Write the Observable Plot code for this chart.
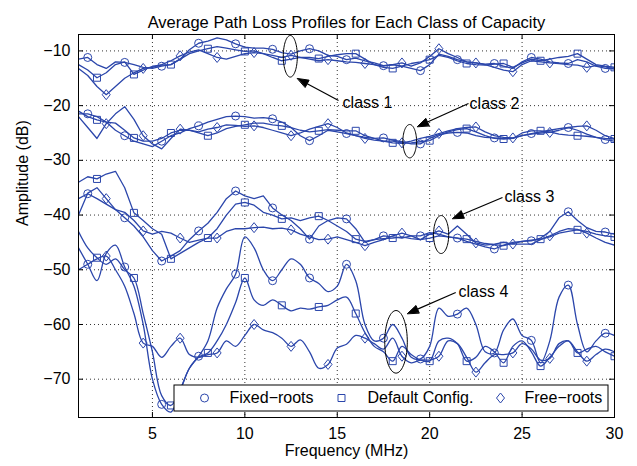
<!DOCTYPE html>
<html><head><meta charset="utf-8">
<script src="https://cdn.jsdelivr.net/npm/d3@7"></script>
<script src="https://cdn.jsdelivr.net/npm/@observablehq/plot@0.6"></script>
<style>body{margin:0;background:#fff}</style>
</head><body><div id="chart"></div>
<script>
// ---------- data ----------
const freq = [1,1.5,2,2.5,3,3.5,4,4.5,5,5.5, 6,6.5,7,7.5,8,8.5,9,9.5,10,10.5,
  11,11.5,12,12.5,13,13.5,14,14.5,15,15.5, 16,16.5,17,17.5,18,18.5,19,19.5,20,20.5,
  21,21.5,22,22.5,23,23.5,24,24.5,25,25.5, 26,26.5,27,27.5,28,28.5,29,29.5,30];
const configs = ["Fixed\u2212roots", "Default Config.", "Free\u2212roots"];
const xTicks = [5, 10, 15, 20, 25, 30];
const yTicks = [-70, -60, -50, -40, -30, -20, -10];
const title = "Average Path Loss Profiles for Each Class of Capacity";
const xLabel = "Frequency (MHz)";
const yLabel = "Amplitude (dB)";

const class1Fixed = [-11.5,-11.2,-12.5,-13.2,-12.0,-12.1,-12.5,-13.0,-13.2,-12.8,
  -12.5,-11.5,-9.8,-8.6,-8.2,-7.6,-8.0,-8.7,-9.3,-9.5,
  -9.5,-9.7,-10.3,-10.6,-10.0,-9.6,-10.0,-10.8,-11.0,-11.6,
  -11.3,-11.8,-12.2,-12.7,-12.5,-12.8,-13.2,-13.6,-12.5,-10.6,
  -11.0,-11.6,-12.0,-12.2,-12.4,-12.3,-12.8,-13.2,-12.0,-11.2,
  -11.5,-12.0,-12.2,-12.3,-11.6,-12.0,-12.8,-13.2,-13.3];
const class1Default = [-12.5,-13.5,-14.9,-14.0,-12.5,-12.0,-14.3,-13.5,-12.8,-12.6,
  -12.5,-11.5,-10.5,-10.0,-9.6,-9.2,-9.5,-9.8,-10.1,-10.0,
  -10.5,-11.2,-11.8,-11.5,-11.2,-11.2,-11.4,-11.0,-10.7,-10.5,
  -10.5,-11.5,-12.5,-13.0,-13.2,-12.8,-12.3,-12.0,-11.6,-10.8,
  -11.2,-11.8,-12.3,-12.5,-12.6,-12.4,-12.3,-13.0,-12.2,-11.5,
  -11.8,-11.5,-11.2,-11.0,-10.5,-11.5,-12.5,-12.8,-13.0];
const class1Free = [-13.2,-14.5,-16.5,-18.0,-16.5,-15.0,-14.0,-13.2,-13.0,-12.5,
  -11.8,-10.9,-10.2,-9.8,-10.5,-11.2,-11.5,-11.0,-10.5,-10.3,
  -10.5,-10.8,-11.2,-10.8,-11.2,-11.5,-11.8,-11.6,-11.8,-12.0,
  -12.1,-12.3,-12.5,-12.8,-12.5,-12.2,-12.8,-12.2,-11.0,-9.6,
  -10.5,-11.2,-12.0,-12.2,-12.5,-13.0,-13.5,-13.8,-12.5,-11.8,
  -12.0,-12.2,-12.3,-12.5,-12.6,-13.0,-12.7,-12.9,-13.3];

const class2Fixed = [-21.5,-21.5,-22.0,-23.0,-24.5,-25.5,-26.5,-27.0,-27.5,-26.5,
  -25.5,-25.0,-24.2,-23.7,-23.0,-22.5,-22.0,-21.9,-22.0,-22.3,
  -22.2,-22.4,-23.0,-24.0,-25.5,-26.4,-25.5,-24.5,-24.8,-25.1,
  -25.5,-25.8,-26.0,-25.9,-26.3,-26.6,-27.0,-27.0,-26.0,-25.3,
  -25.0,-24.9,-25.0,-25.5,-25.8,-25.9,-26.0,-26.0,-25.5,-25.1,
  -24.8,-24.5,-24.2,-24.0,-24.5,-25.2,-25.8,-26.2,-26.5];
const class2Default = [-21.0,-22.0,-22.6,-23.0,-23.2,-24.5,-25.9,-26.5,-26.5,-26.0,
  -25.0,-24.5,-24.5,-25.0,-25.5,-25.0,-24.2,-23.8,-23.5,-23.2,
  -23.2,-23.5,-23.7,-24.0,-24.5,-24.8,-24.6,-24.4,-24.5,-24.6,
  -24.6,-25.5,-26.0,-26.5,-26.8,-26.9,-26.8,-26.6,-26.4,-25.5,
  -24.8,-24.4,-24.2,-24.8,-25.5,-26.0,-26.1,-26.0,-25.0,-24.6,
  -24.6,-24.8,-25.2,-25.4,-25.5,-25.6,-25.8,-26.0,-26.1];
const class2Free = [-22.0,-24.0,-26.0,-23.3,-21.5,-20.2,-22.5,-25.5,-27.0,-27.9,
  -26.0,-24.3,-24.5,-24.8,-24.3,-24.0,-23.5,-23.6,-23.8,-23.7,
  -24.0,-24.5,-25.0,-25.5,-25.0,-24.3,-23.8,-23.3,-24.0,-25.0,
  -25.5,-26.0,-26.3,-26.5,-26.5,-26.8,-26.5,-26.0,-25.6,-25.1,
  -24.6,-24.2,-24.0,-23.9,-24.8,-25.5,-25.8,-25.9,-25.5,-25.2,
  -25.0,-24.9,-24.5,-24.0,-23.8,-23.7,-24.5,-25.5,-26.0];

const class3Fixed = [-37.0,-36.1,-37.0,-38.0,-39.0,-40.5,-42.0,-44.0,-46.5,-48.4,
  -47.5,-46.5,-44.5,-42.9,-41.5,-39.5,-37.0,-35.6,-36.5,-37.0,
  -36.5,-38.7,-40.0,-41.0,-42.5,-44.4,-42.0,-41.0,-40.5,-40.7,
  -42.5,-45.0,-44.5,-43.8,-44.0,-44.2,-43.8,-43.8,-43.2,-43.5,
  -44.0,-44.2,-44.8,-45.3,-45.8,-46.2,-45.5,-45.0,-44.8,-44.7,
  -44.2,-43.0,-40.5,-39.4,-41.0,-42.3,-43.0,-43.1,-43.5];
const class3Default = [-34.0,-33.0,-33.4,-32.5,-32.0,-35.0,-39.6,-41.0,-42.5,-43.5,
  -48.0,-47.0,-46.0,-45.0,-44.2,-42.5,-40.0,-38.0,-37.7,-38.2,
  -39.5,-40.0,-40.7,-40.5,-41.0,-40.5,-40.2,-41.0,-42.0,-43.0,
  -44.4,-44.8,-44.5,-44.3,-44.2,-44.0,-44.3,-44.5,-44.2,-43.8,
  -44.0,-44.2,-44.4,-44.8,-45.2,-45.4,-45.6,-45.2,-44.8,-44.6,
  -44.4,-44.0,-43.3,-43.0,-42.7,-43.0,-43.5,-43.8,-44.0];
const class3Free = [-40.0,-36.0,-35.0,-37.0,-39.0,-39.5,-41.0,-42.9,-43.5,-43.0,
  -43.3,-44.2,-45.0,-44.6,-44.2,-44.2,-43.0,-42.5,-42.5,-42.3,
  -42.2,-42.5,-42.4,-42.7,-43.5,-44.0,-44.5,-44.4,-44.0,-44.5,
  -45.0,-45.6,-45.0,-44.5,-43.8,-43.3,-43.8,-44.5,-43.5,-42.9,
  -43.5,-42.0,-43.5,-45.1,-45.5,-45.3,-45.0,-45.3,-45.3,-45.3,
  -44.5,-43.8,-43.0,-42.5,-42.6,-43.3,-44.2,-45.0,-45.5];

const class4Fixed = [-46.0,-49.0,-52.0,-47.0,-45.5,-49.5,-53.0,-60.0,-70.0,-74.6,
  -76.0,-72.0,-68.0,-65.8,-63.0,-57.0,-53.5,-50.8,-44.0,-46.0,
  -50.0,-52.0,-50.0,-48.0,-49.0,-51.5,-52.5,-54.0,-53.0,-49.0,
  -52.0,-60.0,-63.0,-62.5,-60.0,-62.5,-66.0,-66.3,-64.0,-57.0,
  -58.5,-58.1,-57.0,-60.0,-65.0,-65.2,-61.0,-59.0,-62.0,-62.9,
  -67.0,-63.0,-55.0,-52.8,-60.0,-65.0,-63.0,-61.6,-62.0];
const class4Default = [-43.0,-46.0,-47.8,-49.0,-48.0,-50.0,-51.5,-58.0,-65.0,-73.0,
  -74.8,-72.0,-68.0,-66.0,-65.2,-63.0,-60.0,-56.0,-51.5,-55.5,
  -56.5,-55.5,-56.5,-57.5,-57.0,-57.2,-56.8,-56.5,-55.5,-55.0,
  -58.0,-61.5,-64.0,-65.0,-66.7,-64.0,-65.5,-66.5,-66.7,-63.0,
  -62.5,-63.5,-66.7,-66.0,-64.0,-65.0,-67.0,-64.0,-63.0,-65.0,
  -67.6,-66.0,-64.0,-63.0,-65.2,-64.5,-64.0,-65.0,-65.8];
const class4Free = [-50.0,-49.0,-48.0,-47.5,-50.0,-53.0,-58.0,-63.4,-64.0,-66.0,
  -64.0,-62.5,-65.5,-66.0,-65.5,-65.2,-63.0,-64.0,-62.0,-60.0,
  -61.0,-61.5,-62.5,-64.0,-62.8,-65.0,-68.0,-67.3,-64.3,-63.6,
  -62.0,-62.5,-63.5,-64.5,-62.5,-65.8,-67.0,-66.5,-66.5,-65.8,
  -63.0,-63.5,-66.0,-68.7,-67.0,-65.5,-65.5,-65.2,-63.5,-64.5,
  -66.5,-66.2,-63.5,-63.0,-65.0,-66.7,-65.5,-64.5,-65.0];

// annotations (data units: MHz, dB)
const annotLabel = ["class 1", "class 2", "class 3", "class 4"];
const annotLabelX = [15.29, 22.16, 24.05, 21.56];
const annotLabelY = [-19.56, -19.61, -36.74, -54.1];
const annotTailX = [15.07, 22.10, 23.94, 21.41];
const annotTailY = [-19.06, -19.61, -36.79, -54.16];
const annotTipX = [12.85, 19.34, 21.24, 18.80];
const annotTipY = [-15.04, -23.82, -40.63, -58.0];
const ellipseCx = [12.46, 18.92, 20.62, 18.18];
const ellipseCy = [-10.98, -26.5, -43.56, -63.17];
const ellipseRx = [0.38, 0.37, 0.41, 0.61];
const ellipseRy = [3.8, 3.05, 3.47, 5.72];

// ---------- layout ----------
const W = 637, H = 466;
const M = {left: 78, right: 23, top: 34, bottom: 49};
const xDom = [1, 30], yDom = [-77, -7];
const pw = W - M.left - M.right, ph = H - M.top - M.bottom;
const pxToX = px => xDom[0] + (px - M.left) / pw * (xDom[1] - xDom[0]);
const pyToY = py => yDom[1] - (py - M.top) / ph * (yDom[1] - yDom[0]);
const xToPx = x => M.left + (x - xDom[0]) / (xDom[1] - xDom[0]) * pw;
const yToPy = y => M.top + (yDom[1] - y) / (yDom[1] - yDom[0]) * ph;
const BLUE = "#2b46ab";

const seriesList = [
  [1, configs[0], class1Fixed], [1, configs[1], class1Default], [1, configs[2], class1Free],
  [2, configs[0], class2Fixed], [2, configs[1], class2Default], [2, configs[2], class2Free],
  [3, configs[0], class3Fixed], [3, configs[1], class3Default], [3, configs[2], class3Free],
  [4, configs[0], class4Fixed], [4, configs[1], class4Default], [4, configs[2], class4Free]
];
const rows = seriesList.flatMap(([cls, config, vals]) =>
  vals.map((v, i) => ({freq: freq[i], amp: v, i, cls, key: cls + "|" + config, config})));
const markerPhase = {[configs[0]]: 1, [configs[1]]: 2, [configs[2]]: 3};
const markerRows = rows.filter(d => d.i % 4 === markerPhase[d.config]);

const squareSym = {draw(ctx) { ctx.moveTo(-3.5,-3.5); ctx.lineTo(3.5,-3.5); ctx.lineTo(3.5,3.5); ctx.lineTo(-3.5,3.5); ctx.closePath(); }};
const diamondSym = {draw(ctx) { ctx.moveTo(0,-5); ctx.lineTo(4,0); ctx.lineTo(0,5); ctx.lineTo(-4,0); ctx.closePath(); }};
const symbolFor = {[configs[0]]: "circle", [configs[1]]: squareSym, [configs[2]]: diamondSym};

// annotations geometry
const annots = annotLabel.map((t, k) => ({t, k,
  lx: annotLabelX[k], ly: annotLabelY[k],
  x1: annotTailX[k], y1: annotTailY[k], x2: annotTipX[k], y2: annotTipY[k]}));
const ellipsePts = annots.flatMap(a => d3.range(0, 72).map(j => {
  const th = j / 72 * 2 * Math.PI;
  return {k: a.k, x: ellipseCx[a.k] + ellipseRx[a.k] * Math.cos(th), y: ellipseCy[a.k] + ellipseRy[a.k] * Math.sin(th)};
}));
const headLen = 11, headW = 8;
const shafts = [], heads = [];
annots.forEach(a => {
  const sx = xToPx(a.x1), sy = yToPy(a.y1), tx = xToPx(a.x2), ty = yToPy(a.y2);
  const dx = tx - sx, dy = ty - sy, L = Math.hypot(dx, dy);
  const ux = dx / L, uy = dy / L, nx = -uy, ny = ux;
  const bx = tx - ux * headLen, by = ty - uy * headLen;
  shafts.push({x1: a.x1, y1: a.y1, x2: pxToX(bx), y2: pyToY(by)});
  [[tx, ty], [bx + nx * headW / 2, by + ny * headW / 2], [bx - nx * headW / 2, by - ny * headW / 2]]
    .forEach(([px, py]) => heads.push({k: a.k, x: pxToX(px), y: pyToY(py)}));
});

// legend geometry
const legBox = [{x1: pxToX(174), x2: pxToX(608), y1: pyToY(385), y2: pyToY(411)}];
const legMarkX = [204, 341, 500].map(pxToX);
const legTextX = [229, 367, 524].map(pxToX);
const legY = pyToY(397.5);
const legItems = configs.map((c, k) => ({c, mx: legMarkX[k], tx: legTextX[k], y: legY}));

const minus = d => d < 0 ? "\u2212" + Math.abs(d) : String(d);

const marks = [
  Plot.ruleX(xTicks.filter(t => t < 30), {stroke: "#333", strokeDasharray: "1,3"}),
  Plot.ruleY(yTicks, {stroke: "#333", strokeDasharray: "1,3"}),
  Plot.line(rows.filter(d => d.cls < 4), {x: "freq", y: "amp", z: "key", stroke: BLUE, strokeWidth: 1.3, curve: "linear", clip: true}),
  Plot.line(rows.filter(d => d.cls === 4), {x: "freq", y: "amp", z: "key", stroke: BLUE, strokeWidth: 1.3, curve: "catmull-rom", clip: true}),
  ...configs.map(c => Plot.dot(markerRows.filter(d => d.config === c), {x: "freq", y: "amp", symbol: symbolFor[c], r: 4, fill: "none", stroke: BLUE, strokeWidth: 1, clip: true})),
  Plot.frame({stroke: "black", strokeWidth: 1}),
  Plot.ruleX(xTicks, {y1: yDom[0], y2: pyToY(M.top + ph - 5), stroke: "black"}),
  Plot.ruleX(xTicks, {y1: yDom[1], y2: pyToY(M.top + 5), stroke: "black"}),
  Plot.ruleY(yTicks, {x1: xDom[0], x2: pxToX(M.left + 5), stroke: "black"}),
  Plot.ruleY(yTicks, {x1: xDom[1], x2: pxToX(M.left + pw - 5), stroke: "black"}),
  Plot.rect(legBox, {x1: "x1", x2: "x2", y1: "y1", y2: "y2", fill: "white", stroke: "black", strokeWidth: 1}),
  ...legItems.map(d => Plot.dot([d], {x: "mx", y: "y", symbol: symbolFor[d.c], r: 4, fill: "none", stroke: BLUE, strokeWidth: 1})),
  Plot.text(legItems, {x: "tx", y: "y", text: "c", textAnchor: "start", fill: "black"}),
  Plot.line(ellipsePts, {x: "x", y: "y", z: "k", stroke: "black", strokeWidth: 1, curve: "linear-closed"}),
  Plot.link(shafts, {x1: "x1", y1: "y1", x2: "x2", y2: "y2", stroke: "black", strokeWidth: 1.2}),
  Plot.line(heads, {x: "x", y: "y", z: "k", fill: "black", stroke: "black", strokeWidth: 1, curve: "linear-closed"}),
  Plot.text(annots, {x: "lx", y: "ly", text: "t", textAnchor: "start", fill: "black"}),
  Plot.text([title], {text: d => d, frameAnchor: "top", dy: -18, fill: "black", fontSize: 16.5}),
  Plot.text([xLabel], {text: d => d, frameAnchor: "bottom", dy: 38, fill: "black"}),
  Plot.text([yLabel], {text: d => d, frameAnchor: "left", dx: -56, rotate: -90, fill: "black"})
];

const chart = Plot.plot({
  width: W, height: H,
  marginLeft: M.left, marginRight: M.right, marginTop: M.top, marginBottom: M.bottom,
  style: {fontFamily: "'Liberation Sans', Arial, Helvetica, sans-serif", fontSize: "16px", background: "white", color: "black"},
  x: {domain: xDom, ticks: xTicks, tickSize: 0, tickPadding: 10, tickFormat: minus, label: null},
  y: {domain: yDom, ticks: yTicks, tickSize: 0, tickPadding: 8, tickFormat: minus, label: null},
  marks
});
document.getElementById("chart").appendChild(chart);
</script>
</body></html>
